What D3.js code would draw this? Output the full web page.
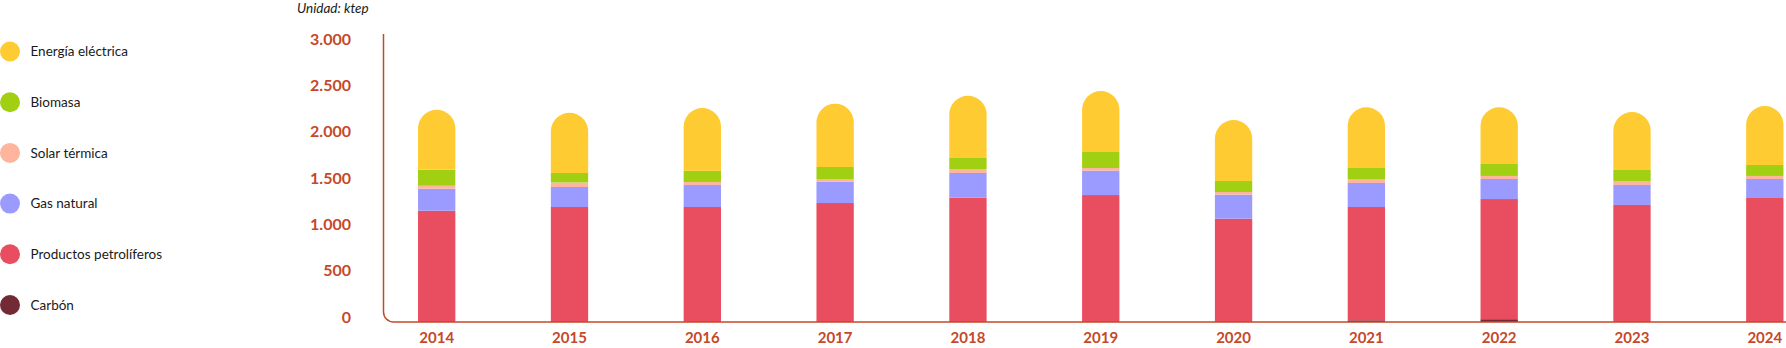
<!DOCTYPE html>
<html lang="es">
<head>
<meta charset="utf-8">
<script src="https://cdn.jsdelivr.net/npm/d3@7"></script>
<style>
  html, body { margin: 0; padding: 0; background: #ffffff; }
  svg { display: block; }
  text { font-family: Lato, "Open Sans", sans-serif; }
</style>
</head>
<body>
<svg id="chart" width="1786" height="348"></svg>
<script>
// Consumo de energía final por fuente (ktep)
const years = ["2014", "2015", "2016", "2017", "2018", "2019", "2020", "2021", "2022", "2023", "2024"];

const carbon    = [0, 0, 0, 0, 0, 0, 0, 18, 30, 0, 0];
const petroleo  = [1201, 1241, 1241, 1284, 1341, 1370, 1115, 1223, 1297, 1263, 1338];
const gas       = [237, 216, 237, 230, 267, 263, 259, 259, 216, 215, 205];
const solar     = [32, 49, 33, 29, 43, 29, 29, 43, 33, 44, 33];
const biomasa   = [172, 102, 122, 130, 119, 173, 119, 119, 129, 118, 118];
const electrica = [648, 649, 676, 683, 672, 658, 658, 655, 612, 626, 637];

const yTicks = [0, 500, 1000, 1500, 2000, 2500, 3000];
const unitLabel = "Unidad: ktep";

// Series, from the bottom of each stack to the top
const seriesNames = ["Carbón", "Productos petrolíferos", "Gas natural", "Solar térmica", "Biomasa", "Energía eléctrica"];
const seriesValues = [carbon, petroleo, gas, solar, biomasa, electrica];
const seriesColors = ["#722a35", "#e84e5f", "#9b9bff", "#fdb59e", "#a1d013", "#ffcb32"];

const rows = years.map((y, i) => {
  const r = { year: y };
  seriesNames.forEach((n, k) => { r[n] = seriesValues[k][i]; });
  return r;
});

const svg = d3.select("#chart");
const W = 1786, H = 348;
const axisColor = "#c6482a";

const axisX = 383.5, baseY = 322, topY = 34;

const y = d3.scaleLinear().domain([0, 3000]).range([baseY, 44]);
const x = d3.scaleBand()
  .domain(years)
  .range([axisX, 1818])
  .paddingInner(0.719)
  .paddingOuter(0.26);

const stack = d3.stack().keys(seriesNames);
const layers = stack(rows);

// Stacked columns; the top segment gets a fully rounded cap
const bw = x.bandwidth();
const capR = bw / 2;

function roundedTop(x0, yTop, yBot, w, r) {
  const rr = Math.min(r, Math.max(0, yBot - yTop));
  return `M${x0},${yBot}V${yTop + rr}` +
    `A${rr},${rr} 0 0 1 ${x0 + rr},${yTop}` +
    `H${x0 + w - rr}` +
    `A${rr},${rr} 0 0 1 ${x0 + w},${yTop + rr}` +
    `V${yBot}Z`;
}

const gBars = svg.append("g").attr("class", "bars");
layers.forEach((layer, k) => {
  const isTop = k === layers.length - 1;
  const g = gBars.append("g").attr("fill", seriesColors[k]);
  layer.forEach(d => {
    const v0 = d[0], v1 = d[1];
    if (v1 - v0 <= 0) return;
    const x0 = x(d.data.year);
    if (isTop) {
      g.append("path").attr("d", roundedTop(x0, y(v1), y(v0), bw, capR));
    } else {
      g.append("rect")
        .attr("x", x0)
        .attr("y", y(v1))
        .attr("width", bw)
        .attr("height", y(v0) - y(v1));
    }
  });
});

// Axis frame: vertical line joining the baseline through a rounded corner
const cr = 10;
svg.append("path")
  .attr("d", `M${axisX},${topY}V${baseY - cr}A${cr},${cr} 0 0 0 ${axisX + cr},${baseY}H${W}`)
  .attr("fill", "none")
  .attr("stroke", axisColor)
  .attr("stroke-width", 1.5);

// Y tick labels
svg.append("g").selectAll("text")
  .data(yTicks)
  .join("text")
  .attr("x", 351)
  .attr("y", d => y(d) - 5)
  .attr("dy", "0.35em")
  .attr("text-anchor", "end")
  .attr("fill", axisColor)
  .attr("font-size", 16)
  .attr("font-weight", 700)
  .text(d => d3.format(",")(d).replace(/,/g, "."));

// X labels
svg.append("g").selectAll("text")
  .data(years)
  .join("text")
  .attr("x", d => x(d) + bw / 2)
  .attr("y", 337.5)
  .attr("dy", "0.35em")
  .attr("text-anchor", "middle")
  .attr("fill", axisColor)
  .attr("font-size", 15)
  .attr("font-weight", 700)
  .text(d => d);

// Unit note
svg.append("text")
  .attr("x", 297)
  .attr("y", 8.5)
  .attr("dy", "0.35em")
  .attr("font-size", 13.5)
  .attr("font-style", "italic")
  .attr("fill", "#1a1a1a")
  .text(unitLabel);

// Legend, top entry first
const legendOrder = seriesNames.slice().reverse();
const legendColors = seriesColors.slice().reverse();
const ly = d3.scalePoint().domain(legendOrder).range([51.5, 305]);
const legend = svg.append("g").selectAll("g")
  .data(legendOrder)
  .join("g")
  .attr("transform", d => `translate(0,${ly(d)})`);
legend.append("circle")
  .attr("cx", 10)
  .attr("cy", 0)
  .attr("r", 10)
  .attr("fill", (d, i) => legendColors[i]);
legend.append("text")
  .attr("x", 30.5)
  .attr("y", 0)
  .attr("dy", "0.35em")
  .attr("font-size", 13.5)
  .attr("fill", "#1a1a1a")
  .text(d => d);
</script>
</body>
</html>
